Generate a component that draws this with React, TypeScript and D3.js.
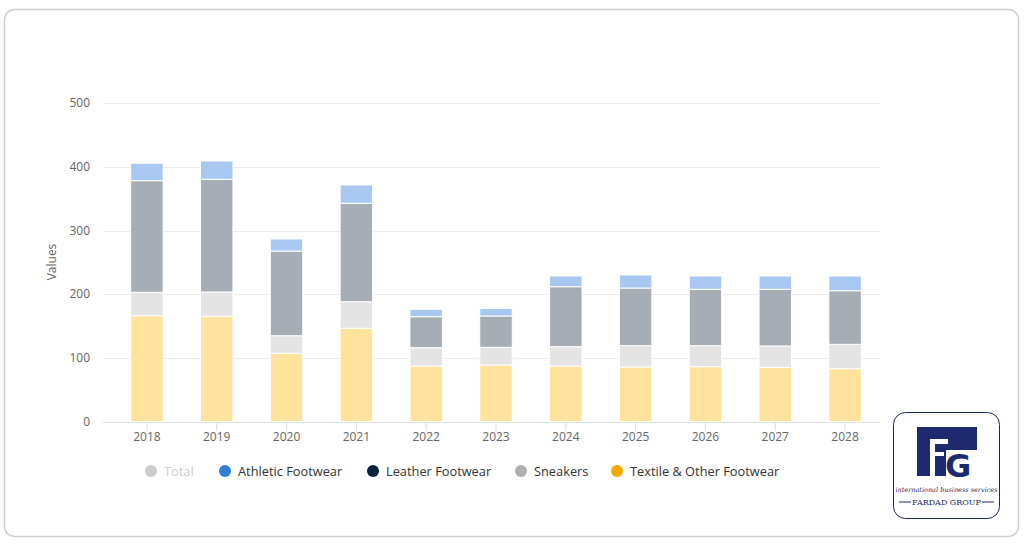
import React from "react";
import * as d3 from "d3";

const years = ["2018", "2019", "2020", "2021", "2022", "2023", "2024", "2025", "2026", "2027", "2028"];
const textile = [166.5, 165.5, 107.4, 146.7, 87.5, 89, 87.5, 86, 86.4, 85.4, 83.2];
const leather = [36.7, 38.2, 27.6, 41.7, 28.7, 27.8, 30.3, 33.4, 33, 33.5, 38.3];
const sneakers = [175.3, 176.9, 133, 154.6, 48.7, 49.2, 94.2, 90.5, 88.5, 89, 84.2];
const athletic = [27.3, 28.8, 19, 28.7, 11.6, 12, 16.8, 20.5, 20.9, 20.9, 23.1];
const yTicks = [0, 100, 200, 300, 400, 500];

const seriesNames = ["Textile & Other Footwear", "Leather Footwear", "Sneakers", "Athletic Footwear"];
const seriesValues = [textile, leather, sneakers, athletic];
const barColors = ["#FFE29C", "#E4E4E4", "#A6ADB5", "#A9C8F1"];

const legendItems = [
  { name: "Total", color: "#cccccc", text: "#cccccc" },
  { name: "Athletic Footwear", color: "#2f7ed8", text: "#333333" },
  { name: "Leather Footwear", color: "#0d233a", text: "#333333" },
  { name: "Sneakers", color: "#b0b0b0", text: "#333333" },
  { name: "Textile & Other Footwear", color: "#f7a800", text: "#333333" },
];

const FONT = "'Open Sans', 'DejaVu Sans', sans-serif";

export default function App() {
  const W = 1024, H = 544;
  const left = 103, right = 880, top = 103.3, bottom = 421.7;
  const x = d3.scaleBand<string>().domain(years).range([112, 880]).paddingInner(0.535).paddingOuter(0.2675);
  const y = d3.scaleLinear().domain([0, 500]).range([bottom, top]);

  const data = years.map((yr, i) => {
    const o: any = { year: yr };
    seriesNames.forEach((n, k) => (o[n] = seriesValues[k][i]));
    return o;
  });
  const stack = d3.stack<any>().keys(seriesNames)(data);

  const legendX = [151, 225, 373, 521, 617];
  const navy = "#1e2a6e";

  return (
    <svg width={W} height={H} style={{ position: "absolute", left: 0, top: 0, background: "#fff" }} fontFamily={FONT}>
      <rect x={4.5} y={9.5} width={1014} height={527} rx={10} fill="#fff" stroke="#d0d0d0" strokeWidth={1.5} />
      {yTicks.map((t) => (
        <g key={t}>
          <line x1={left} x2={right} y1={Math.round(y(t)) + 0.5} y2={Math.round(y(t)) + 0.5} stroke={t === 0 ? "#d8dde6" : "#ececec"} />
          <text x={90} y={y(t) + 4} textAnchor="end" fontSize={12} fill="#666">{t}</text>
        </g>
      ))}
      {years.map((yr) => {
        const cx = (x(yr) as number) + x.bandwidth() / 2;
        return (
          <g key={yr}>
            <line x1={cx} x2={cx} y1={bottom} y2={bottom + 9} stroke="#d8dde6" />
            <text x={cx} y={441} textAnchor="middle" fontSize={12} fill="#666">{yr}</text>
          </g>
        );
      })}
      <text transform={`translate(56,262) rotate(-90)`} textAnchor="middle" fontSize={12} fill="#666">Values</text>
      {stack.map((s, k) => (
        <g key={s.key} fill={barColors[k]}>
          {s.map((d: any, i: number) => (
            <rect
              key={i}
              x={x(years[i])}
              y={y(d[1])}
              width={x.bandwidth()}
              height={y(d[0]) - y(d[1])}
              stroke="#fff"
              strokeWidth={1}
            />
          ))}
        </g>
      ))}
      {legendItems.map((it, i) => (
        <g key={it.name}>
          <circle cx={legendX[i]} cy={471} r={6} fill={it.color} />
          <text x={legendX[i] + 13} y={476} fontSize={12.8} fill={it.text}>{it.name}</text>
        </g>
      ))}
      <g>
        <rect x={893.5} y={412.5} width={106} height={106} rx={12} fill="#fff" stroke="#1e2a5a" strokeWidth={1} />
        <rect x={917} y={427} width={60} height={49} fill={navy} />
        <rect x={930} y={439} width={5} height={37} fill="#fff" />
        <rect x={930} y={439} width={18} height={5} fill="#fff" />
        <rect x={930} y={452} width={14} height={4} fill="#fff" />
        <rect x={946} y={450} width={31} height={26} fill="#fff" />
        <text x={945} y={477} fontSize={32} fontWeight="bold" fill={navy} fontFamily="'DejaVu Sans', sans-serif">G</text>
        <text x={946.5} y={492} textAnchor="middle" fontSize={6.5} fontStyle="italic" fill="#1e2a5a" fontFamily="'DejaVu Serif', serif">international business services</text>
        <line x1={899} x2={911} y1={502} y2={502} stroke="#1e2a5a" />
        <line x1={982} x2={994} y1={502} y2={502} stroke="#1e2a5a" />
        <text x={946.5} y={505} textAnchor="middle" fontSize={8} fill="#1e2a5a" fontFamily="'DejaVu Serif', serif">FARDAD GROUP</text>
      </g>
    </svg>
  );
}
